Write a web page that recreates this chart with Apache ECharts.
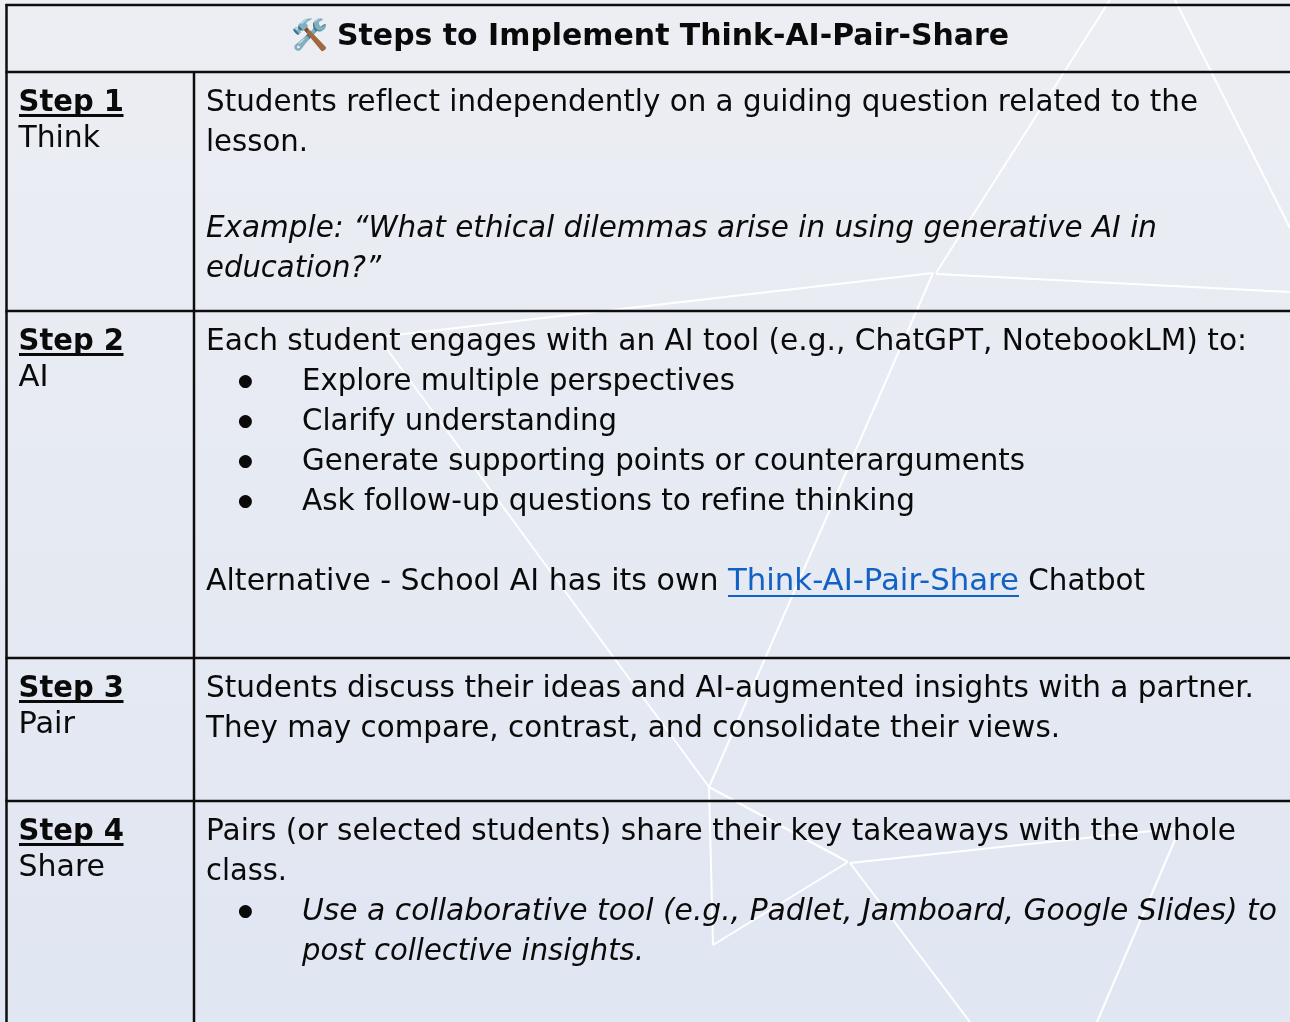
<!DOCTYPE html>
<html>
<head>
<meta charset="utf-8">
<title>Steps to Implement Think-AI-Pair-Share</title>
<style>
  html, body { margin: 0; padding: 0; background: #eceef3; }
  #main { width: 1290px; height: 1022px; }
</style>
<script src="https://cdn.jsdelivr.net/npm/echarts@6/dist/echarts.min.js"></script>
</head>
<body>
<div id="main"></div>
<script>
const titleIcon = '🛠️'
const titleText = 'Steps to Implement Think-AI-Pair-Share'
const stepNames = ['Step 1', 'Step 2', 'Step 3', 'Step 4']
const stepLabels = ['Think', 'AI', 'Pair', 'Share']

const step1Lines = ['Students reflect independently on a guiding question related to the', 'lesson.']
const step1Example = ['Example: “What ethical dilemmas arise in using generative AI in', 'education?”']
const step2Intro = 'Each student engages with an AI tool (e.g., ChatGPT, NotebookLM) to:'
const step2Bullets = ['Explore multiple perspectives', 'Clarify understanding', 'Generate supporting points or counterarguments', 'Ask follow-up questions to refine thinking']
const step2Alt = ['Alternative - School AI has its own ', 'Think-AI-Pair-Share', ' Chatbot']
const step3Lines = ['Students discuss their ideas and AI-augmented insights with a partner.', 'They may compare, contrast, and consolidate their views.']
const step4Lines = ['Pairs (or selected students) share their key takeaways with the whole', 'class.']
const step4Bullet = ['Use a collaborative tool (e.g., Padlet, Jamboard, Google Slides) to', 'post collective insights.']

const FONT = '"DejaVu Sans", Verdana, sans-serif'
const BODY_SIZE = 29.3
const INK = '#0a0a0a'
const LINK = '#1261c4'

// the reference has no ligatures or kerning
const origFillText = CanvasRenderingContext2D.prototype.fillText
CanvasRenderingContext2D.prototype.fillText = function () {
  this.textRendering = 'optimizeSpeed'
  return origFillText.apply(this, arguments)
}
const measureCtx = document.createElement('canvas').getContext('2d')
measureCtx.textRendering = 'optimizeSpeed'

const elements = []

// x is the left edge, right (optional) the right edge the line has to reach
function text(str, x, y, right, opts) {
  opts = opts || {}
  const size = opts.size || BODY_SIZE
  const bold = opts.bold ? 'bold' : 'normal'
  const italic = opts.italic ? 'italic' : 'normal'
  let scaleX = 1
  if (right) {
    measureCtx.font = italic + ' ' + bold + ' ' + size + 'px ' + FONT
    scaleX = (right - x) / measureCtx.measureText(str).width
  }
  elements.push({
    type: 'text',
    x: x,
    y: y,
    scaleX: scaleX,
    z: 5,
    style: {
      text: str,
      fill: opts.color || INK,
      fontFamily: FONT,
      fontSize: size,
      fontWeight: bold,
      fontStyle: italic,
      align: 'left',
      verticalAlign: 'middle'
    }
  })
}

function line(x1, y1, x2, y2, color, width, z) {
  elements.push({
    type: 'line',
    z: z,
    shape: { x1: x1, y1: y1, x2: x2, y2: y2 },
    style: { stroke: color, lineWidth: width }
  })
}

// page background, slightly bluer to the bottom
elements.push({
  type: 'rect',
  z: 0,
  shape: { x: 0, y: 0, width: 1290, height: 1022 },
  style: {
    fill: new echarts.graphic.LinearGradient(0, 0, 0, 1, [
      { offset: 0, color: '#eceef3' },
      { offset: 1, color: '#e0e6f2' }
    ])
  }
})

// white triangles behind the table
const white = '#ffffff'
const triW = 2
line(1110, 0, 936, 273, white, triW, 1)
line(1175, 0, 1290, 228, white, triW, 1)
line(936, 274, 1290, 292, white, triW, 1)
line(933, 273, 378, 337, white, triW, 1)
line(933, 273, 709, 787, white, triW, 1)
line(378, 337, 709, 787, white, triW, 1)
line(709, 787, 848, 862, white, triW, 1)
line(709, 787, 713, 945, white, triW, 1)
line(713, 945, 848, 862, white, triW, 1)
line(850, 863, 1180, 828, white, triW, 1)
line(850, 863, 970, 1022, white, triW, 1)
line(1180, 828, 1097, 1022, white, triW, 1)

// table rules
const ruleColor = '#0d0d0d'
const ruleW = 2.5
line(6.5, 4, 6.5, 1022, ruleColor, ruleW, 3)
line(194, 72, 194, 1022, ruleColor, ruleW, 3)
;[5, 72, 311, 658, 801].forEach(function (y) {
  line(5.5, y, 1290, y, ruleColor, ruleW, 3)
})

// title
text(titleIcon, 291, 37, null, { size: 30 })
text(titleText, 337, 37, 1009, { bold: true })

// left column
const stepRows = [103, 342, 689, 832]
const stepLabelEnds = [100, 48.5, 75, 105]
stepNames.forEach(function (name, i) {
  const y = stepRows[i]
  text(name, 18.5, y, 124, { bold: true })
  line(19, y + 12.5, 123.5, y + 12.5, INK, 3, 4)
  text(stepLabels[i], 18.5, y + 36, stepLabelEnds[i])
})

// step 1
text(step1Lines[0], 206, 103, 1198)
text(step1Lines[1], 206, 143, 308)
text(step1Example[0], 206, 229, 1157, { italic: true })
text(step1Example[1], 206, 269, 381, { italic: true })

// step 2
const bulletEnds = [735, 617, 1025, 915]
text(step2Intro, 206, 342, 1247)
step2Bullets.forEach(function (b, i) {
  text('●', 238, 382 + i * 40, null, { size: 17 })
  text(b, 302, 382 + i * 40, bulletEnds[i])
})
text(step2Alt[0], 206, 582, 728)
text(step2Alt[1], 728, 582, 1019, { color: LINK })
line(728, 596, 1019, 596, LINK, 2, 4)
text(step2Alt[2], 1019, 582, 1145)

// step 3
text(step3Lines[0], 206, 689, 1254)
text(step3Lines[1], 206, 729, 1060)

// step 4
text(step4Lines[0], 206, 832, 1236)
text(step4Lines[1], 206, 872, 287)
text('●', 238, 912, null, { size: 17 })
text(step4Bullet[0], 302, 912, 1277, { italic: true })
text(step4Bullet[1], 302, 952, 644, { italic: true })

const chart = echarts.init(document.getElementById('main'))
chart.setOption({
  animation: false,
  graphic: { elements: elements }
})
</script>
</body>
</html>
